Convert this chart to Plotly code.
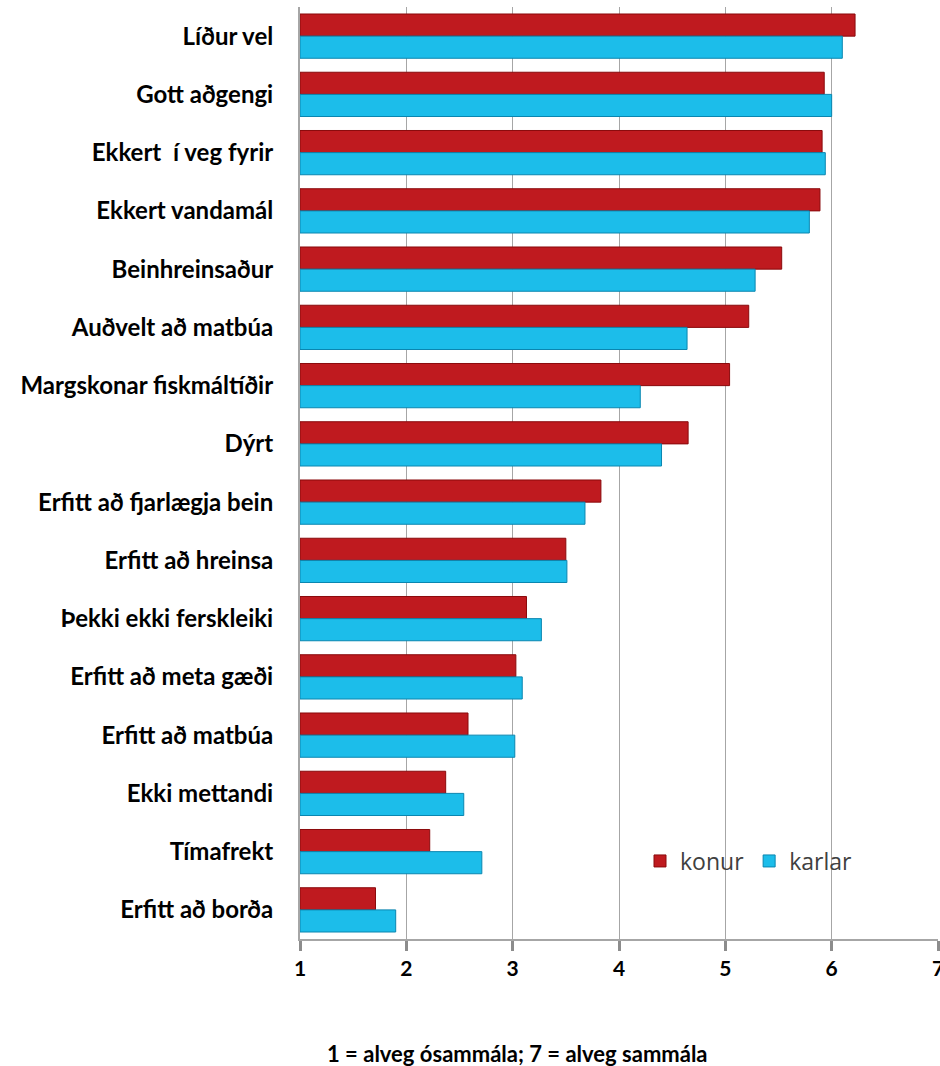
import plotly.graph_objects as go

categories = [
    "Líður vel", "Gott aðgengi", "Ekkert  í veg fyrir", "Ekkert vandamál",
    "Beinhreinsaður", "Auðvelt að matbúa", "Margskonar fiskmáltíðir", "Dýrt",
    "Erfitt að fjarlægja bein", "Erfitt að hreinsa", "Þekki ekki ferskleiki",
    "Erfitt að meta gæði", "Erfitt að matbúa", "Ekki mettandi", "Tímafrekt",
    "Erfitt að borða",
]
konur = [6.22, 5.93, 5.91, 5.89, 5.53, 5.22, 5.04, 4.65,
         3.83, 3.50, 3.13, 3.03, 2.58, 2.37, 2.22, 1.71]
karlar = [6.10, 6.00, 5.94, 5.79, 5.28, 4.64, 4.20, 4.40,
          3.68, 3.51, 3.27, 3.09, 3.02, 2.54, 2.71, 1.90]
x_ticks = [1, 2, 3, 4, 5, 6, 7]
x_title = "1 = alveg ósammála; 7 = alveg sammála"

W, H = 940, 1066
ML, MR, MT, MB = 300, 2, 7, 127
PW, PH = W - ML - MR, H - MT - MB

BASE = 1
fig = go.Figure()
fig.add_trace(go.Bar(
    y=categories, x=[v - BASE for v in konur], base=BASE, orientation="h",
    name="konur", marker=dict(color="#bf1a1f", line=dict(color="#8a0a0c", width=1)),
))
fig.add_trace(go.Bar(
    y=categories, x=[v - BASE for v in karlar], base=BASE, orientation="h",
    name="karlar", marker=dict(color="#1cbdea", line=dict(color="#0a86b0", width=1)),
))

fig.update_layout(
    width=W, height=H,
    margin=dict(l=ML, r=MR, t=MT, b=MB, autoexpand=False),
    paper_bgcolor="white", plot_bgcolor="white",
    barmode="group", bargap=0.24, bargroupgap=0,
    font=dict(family="Lato, 'Open Sans', sans-serif", color="black"),
    showlegend=True,
    legend=dict(
        orientation="h", x=(640 - ML) / PW, y=(H - MB - 861) / PH,
        xanchor="left", yanchor="middle",
        font=dict(size=23, color="#404040", family="'Open Sans', sans-serif"),
        bgcolor="rgba(0,0,0,0)", itemwidth=30,
    ),
    xaxis=dict(
        range=[1, 7], tickvals=x_ticks, ticktext=[str(t) for t in x_ticks],
        showgrid=True, gridcolor="#a6a6a6", gridwidth=1,
        showline=True, linecolor="#a6a6a6", linewidth=2,
        ticks="outside", ticklen=10, tickcolor="#8c8c8c", tickwidth=3,
        tickfont=dict(size=21, family="Lato", color="black", weight="bold"),
        zeroline=False, automargin=False, ticklabeloverflow="allow",
    ),
    yaxis=dict(
        autorange="reversed", showline=True, linecolor="#a6a6a6", linewidth=2,
        ticks="", ticklabelstandoff=20, automargin=False,
        tickfont=dict(size=24, family="Lato", color="black", weight="bold"),
        showgrid=False,
    ),
    annotations=[dict(
        text="<b>" + x_title + "</b>",
        x=(517 - ML) / PW, xref="paper", xanchor="center",
        y=(H - MB - 1053) / PH, yref="paper", yanchor="middle",
        showarrow=False, font=dict(size=22, family="Lato", color="black"),
    )],
)

fig.write_html("out.html", config={"displayModeBar": False},
               post_script="document.body.style.margin='0';")
